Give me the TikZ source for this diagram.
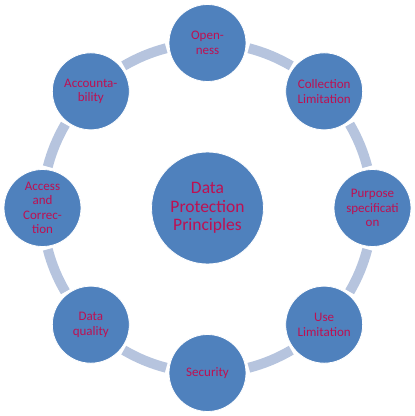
\documentclass[tikz,border=0pt]{standalone}
\usepackage{fontspec}
\setmainfont{Carlito}
\definecolor{circfill}{RGB}{79,129,189}
\definecolor{ringcol}{RGB}{182,196,222}
\definecolor{txtcol}{RGB}{190,16,82}
\begin{document}
\begin{tikzpicture}[x=1pt,y=1pt,
  principle/.style={circle, fill=circfill, draw=white, line width=0.8pt,
    minimum size=77pt, inner sep=0pt, text=txtcol,
    font=\fontsize{13}{14.5}\selectfont, align=center},
  core/.style={principle, minimum size=112pt,
    font=\fontsize{17.5}{18.7}\selectfont},
  ringarc/.style={draw=ringcol, line width=10pt}]
\useasboundingbox (0,0) rectangle (415,416);
\node[core] (c) at (207.5,208) {Data\\Protection\\Principles};
\foreach \a in {0,45,...,315}{
  \draw[ringarc] ([shift={(\a+14.5:165)}]c.center)
    arc[start angle=\a+14.5, end angle=\a+30.5, radius=165];
}
\node[principle] (open) at ([shift={(90:165)}]c.center) {Open-\\ness};
\node[principle] (coll) at ([shift={(45:165)}]c.center) {Collection\\Limitation};
\node[principle] (purp) at ([shift={(0:165)}]c.center) {Purpose\\specificati\\on};
\node[principle] (use) at ([shift={(-45:165)}]c.center) {Use\\Limitation};
\node[principle] (sec) at ([shift={(-90:165)}]c.center) {Security};
\node[principle] (qual) at ([shift={(-135:165)}]c.center) {Data\\quality};
\node[principle] (acc) at ([shift={(180:165)}]c.center) {Access\\and\\Correc-\\tion};
\node[principle] (acct) at ([shift={(135:165)}]c.center) {Accounta-\\bility};
\end{tikzpicture}
\end{document}
